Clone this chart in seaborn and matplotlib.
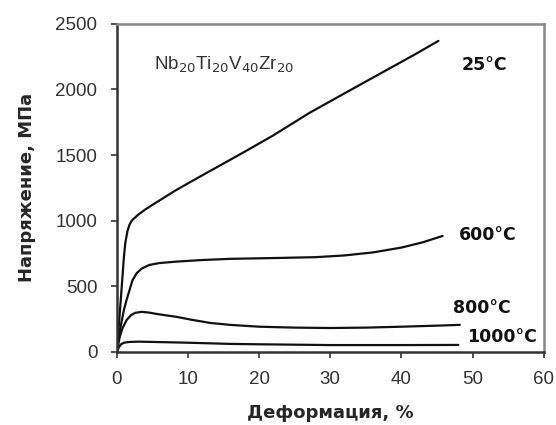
import pandas as pd
import numpy as np
import matplotlib
matplotlib.use("Agg")
import matplotlib.pyplot as plt
import seaborn as sns

# --- DATA ---
strain_25 = [0, 0.5, 1.0, 1.2, 1.5, 1.8, 2.1, 2.5, 3.0, 4.0, 5.0, 8.4, 12, 17.7, 22, 27.1, 32, 37, 42, 45.2]
stress_25 = [0, 350, 720, 830, 920, 970, 1000, 1020, 1045, 1085, 1120, 1235, 1345, 1517, 1650, 1822, 1970, 2120, 2270, 2370]

strain_600 = [0, 0.5, 1.0, 1.4, 1.8, 2.2, 2.8, 3.5, 4.6, 6.0, 8.4, 12, 15.9, 22.9, 28, 32, 36, 40, 43, 45.8]
stress_600 = [0, 180, 320, 400, 472, 545, 600, 635, 663, 677, 688, 700, 709, 716, 722, 735, 758, 795, 835, 884]

strain_800 = [0, 0.4, 0.8, 1.4, 2.0, 2.6, 3.5, 4.5, 5.5, 7.0, 8.4, 10.5, 13.1, 15.9, 20, 25, 30, 35, 40, 45, 48.2]
stress_800 = [0, 110, 180, 244, 280, 298, 305, 300, 290, 278, 267, 245, 221, 206, 192, 185, 182, 185, 192, 200, 206]

strain_1000 = [0, 0.3, 0.6, 1.0, 1.8, 3.0, 5, 10, 15.9, 20, 25, 30, 35, 40, 48]
stress_1000 = [0, 35, 58, 70, 76, 78, 76, 70, 61, 58, 55, 52, 52, 52, 53]

temps = ["25°C", "600°C", "800°C", "1000°C"]
strains = [strain_25, strain_600, strain_800, strain_1000]
stresses = [stress_25, stress_600, stress_800, stress_1000]

rows = []
for t, xs, ys in zip(temps, strains, stresses):
    for x, y in zip(xs, ys):
        rows.append({"T": t, "strain": x, "stress": y})
df = pd.DataFrame(rows)

# --- STYLE ---
sns.set_style("ticks")
plt.rcParams["font.family"] = ["Liberation Sans", "DejaVu Sans"]

fig = plt.figure(figsize=(5.56, 4.25), dpi=100)
ax = fig.add_axes([0.210, 0.172, 0.768, 0.772])

sns.lineplot(data=df, x="strain", y="stress", hue="T", hue_order=temps,
             palette=["#111111"] * 4, linewidth=1.6, legend=False, ax=ax,
             sort=False, estimator=None)

ax.set_xlim(0, 60)
ax.set_ylim(0, 2500)
ax.set_xticks(range(0, 61, 10))
ax.set_yticks(range(0, 2501, 500))
ax.tick_params(labelsize=13.5, colors="#333333", length=4, width=1.2, direction="out")
ax.tick_params(axis="y", pad=10)
ax.tick_params(axis="x", pad=10)
for s in ["left", "bottom"]:
    ax.spines[s].set_color("#333333")
    ax.spines[s].set_linewidth(1.8)
for s in ["top", "right"]:
    ax.spines[s].set_color("#888888")
    ax.spines[s].set_linewidth(1.8)

bold = dict(family="DejaVu Sans", fontweight="bold", fontsize=12.5)
label_font = dict(family="DejaVu Sans", fontweight="bold", fontsize=13)
ax.set_xlabel("Деформация, %", labelpad=11, **label_font)
ax.set_ylabel("Напряжение, МПа", labelpad=14, **label_font)

# temperature labels
label_pos = {"25°C": (51.7, 2187), "600°C": (52.1, 892), "800°C": (51.3, 335), "1000°C": (54.1, 114)}
for t in temps:
    x, y = label_pos[t]
    ax.text(x, y, t, ha="center", va="center", color="#111111", **bold)

ax.text(5.3, 2187, r"Nb$_{20}$Ti$_{20}$V$_{40}$Zr$_{20}$", ha="left", va="center",
        fontsize=13.5, color="#333333")

fig.savefig("out.png", dpi=100)
